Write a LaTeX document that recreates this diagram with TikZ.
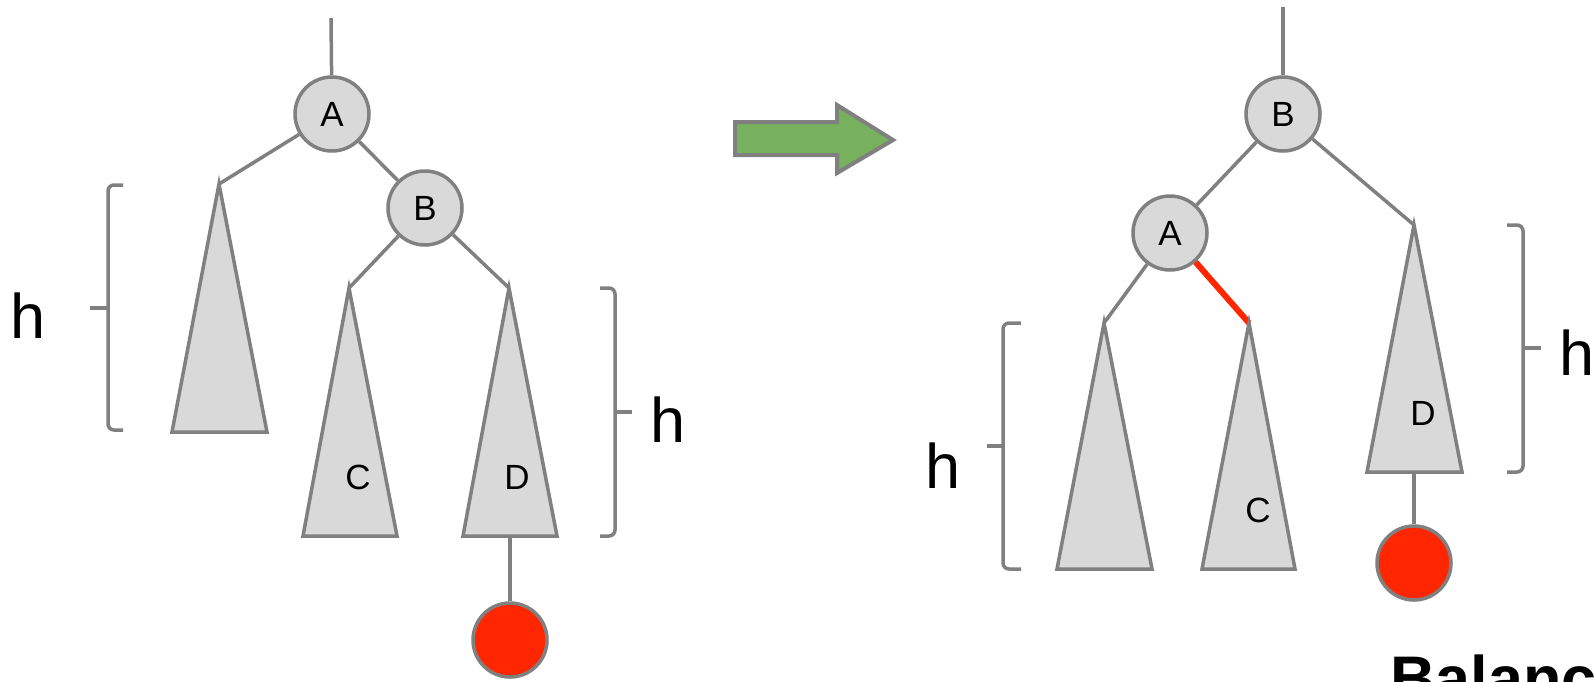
\documentclass[tikz,border=0pt]{standalone}
\usepackage{fontspec}
\setmainfont{Liberation Sans}
\definecolor{edgegray}{RGB}{128,128,128}
\definecolor{nodegray}{RGB}{217,217,217}
\definecolor{newred}{RGB}{255,38,0}
\definecolor{arrowgreen}{RGB}{119,177,93}

\begin{document}
\begin{tikzpicture}[x=0.5pt,y=-0.5pt,
    edge/.style={line width=1.75pt, draw=edgegray},
    treenode/.style={circle, draw=edgegray, line width=1.75pt, fill=nodegray,
        minimum size=37pt, inner sep=0pt, font=\fontsize{17.5}{20}\selectfont},
    newnode/.style={treenode, fill=newred},
    subtree/.style={line width=1.75pt, draw=edgegray, fill=nodegray},
    tlabel/.style={inner sep=0pt, font=\fontsize{17.5}{20}\selectfont},
    bracket/.style={line width=1.75pt, draw=edgegray, rounded corners=3pt},
    hlabel/.style={inner sep=0pt, font=\fontsize{31.5}{36}\selectfont}]
        \useasboundingbox (0,0) rectangle (1594,681);
        \clip (0,0) rectangle (1594,681);

        % Before: left tree
        \coordinate (lTop) at (331,18);
        \node[treenode] (lA) at (332,114) {A};
        \node[treenode] (lB) at (425,208) {B};
        \coordinate (lL) at (219,184);
        \coordinate (lC) at (349,288);
        \coordinate (lD) at (509,288);

        \draw[edge] (lTop) -- (lA);
        \draw[edge] (lA) -- (lL);
        \draw[edge] (lA) -- (lB);
        \draw[edge] (lB) -- (lC);
        \draw[edge] (lB) -- (lD);

        \draw[subtree] (lL) -- (172,432) -- (267,432) -- cycle;
        \draw[subtree] (lC) -- (303,536) -- (397,536) -- cycle;
        \draw[subtree] (lD) -- (463,536) -- (557,536) -- cycle;
        \node[tlabel] (lCl) at (358,477) {C};
        \node[tlabel] (lDl) at (517,477) {D};

        \coordinate (lDb) at (510,536);
        \node[newnode] (lN) at (510,640) {};
        \draw[edge] (lDb) -- (lN);

        % heights
        \draw[bracket] (123,185) -- (108,185) -- (108,430) -- (123,430);
        \draw[bracket] (108,308) -- (90,308);
        \node[hlabel] (lh1) at (28,316) {h};
        \draw[bracket] (600,288) -- (615,288) -- (615,536) -- (600,536);
        \draw[bracket] (615,412) -- (632,412);
        \node[hlabel] (lh2) at (668,420) {h};

        % Rotation arrow
        \draw[line width=2pt, draw=edgegray, fill=arrowgreen]
            (735,122) -- (837,122) -- (837,105) -- (893,140)
            -- (837,173) -- (837,155) -- (735,155) -- cycle;

        % After: right tree
        \coordinate (rTop) at (1283,7);
        \node[treenode] (rB) at (1283,114) {B};
        \node[treenode] (rA) at (1170,233) {A};
        \coordinate (rL) at (1104,323);
        \coordinate (rC) at (1249,323);
        \coordinate (rD) at (1414,225);

        \draw[edge] (rTop) -- (rB);
        \draw[edge] (rB) -- (rA);
        \draw[edge] (rB) -- (rD);
        \draw[edge] (rA) -- (rL);
        \draw[line width=3pt, draw=newred] (rA) -- (rC);

        \draw[subtree] (rL) -- (1057,569) -- (1152,569) -- cycle;
        \draw[subtree] (rC) -- (1202,569) -- (1295,569) -- cycle;
        \draw[subtree] (rD) -- (1367,472) -- (1462,472) -- cycle;
        \node[tlabel] (rCl) at (1258,510) {C};
        \node[tlabel] (rDl) at (1423,413) {D};

        \coordinate (rDb) at (1414,472);
        \node[newnode] (rN) at (1414,563) {};
        \draw[edge] (rDb) -- (rN);

        % heights
        \draw[bracket] (1021,323) -- (1003,323) -- (1003,569) -- (1021,569);
        \draw[bracket] (1003,446) -- (987,446);
        \node[hlabel] (rh1) at (943,466) {h};
        \draw[bracket] (1507,225) -- (1523,225) -- (1523,472) -- (1507,472);
        \draw[bracket] (1523,348) -- (1541,348);
        \node[hlabel] (rh2) at (1577,353) {h};

        \node[anchor=base west, inner sep=0pt, font=\fontsize{31.5}{36}\selectfont\bfseries]
            (bal) at (1390,700) {Balanc};
\end{tikzpicture}
\end{document}
